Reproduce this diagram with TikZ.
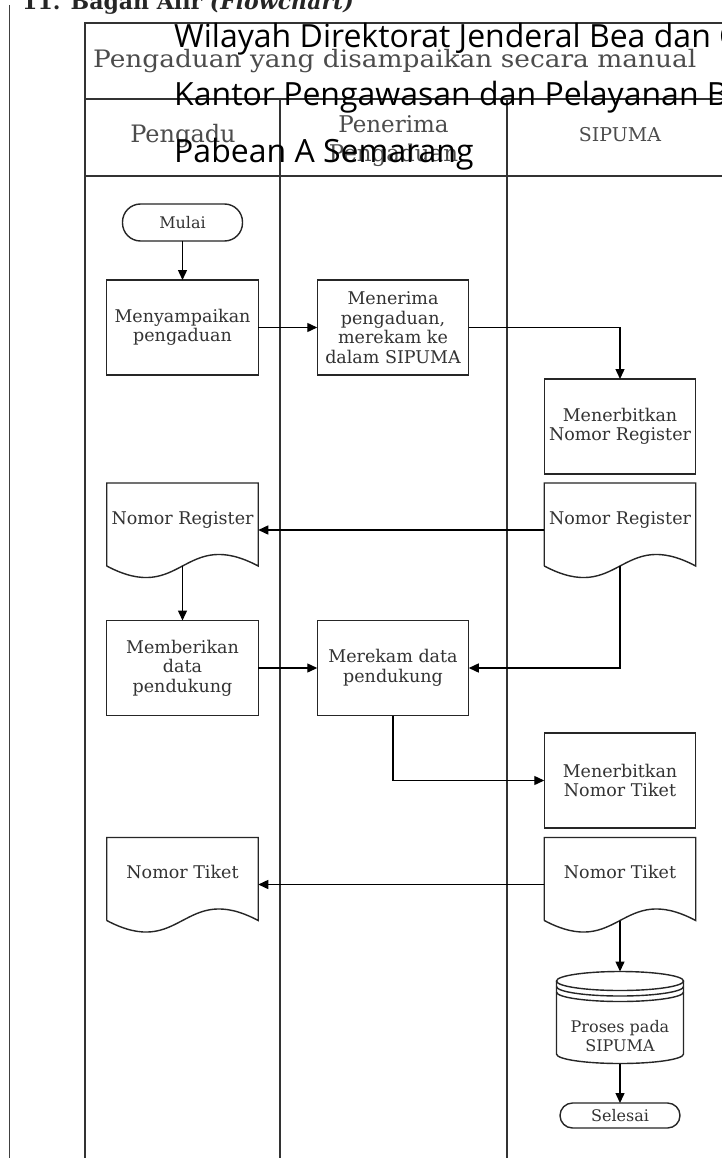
\documentclass[tikz,border=0pt]{standalone}
\usepackage{fontspec}
\setmainfont{DejaVu Serif}
\newfontfamily\ovlfont{Open Sans}
\newfontfamily\hdrfont[FakeStretch=1.1]{DejaVu Serif}
\usetikzlibrary{arrows.meta,calc}
\newcommand\docpath[1]{\draw[boxline] (#1.south west) -- (#1.north west) -- (#1.north east) -- (#1.south east) .. controls ($(#1.south)+(0,-40)$) and ($(#1.south)+(0,40)$) .. (#1.south west);}
\begin{document}
\begin{tikzpicture}[x=1pt,y=-1pt,
  frame/.style={draw=black!80, line width=2pt},
  boxline/.style={draw=black!85, line width=1.4pt},
  procbox/.style={boxline, minimum width=151.5pt, minimum height=95pt, inner sep=0pt, outer sep=0pt, align=center, font=\fontsize{17.5}{19.5}\selectfont, text=black!80},
  docbox/.style={draw=none, minimum width=151.5pt, minimum height=83pt, inner sep=0pt, outer sep=0pt, align=center, text height=13pt, text depth=14pt, font=\fontsize{17.5}{19.5}\selectfont, text=black!80},
  termbox/.style={boxline, minimum width=120pt, inner sep=0pt, outer sep=0pt, font=\fontsize{16}{19}\selectfont, text=black!80},
  arr/.style={draw=black, line width=1.4pt, -{Triangle[length=10pt,width=9pt]}},
  hdr/.style={inner sep=0pt, text=black!70},
  ovl/.style={anchor=base west, inner sep=0pt, font=\ovlfont\fontsize{32}{38}\selectfont, text=black}
]
\useasboundingbox (0,0) rectangle (722,1158);
\clip (0,0) rectangle (722,1158);
\fill[white] (0,0) rectangle (722,1158);

% page margin line and section heading
\draw[line width=1.8pt, black!75] (9.5,5) -- (9.5,1170);
\node[anchor=base west, inner sep=0pt, font=\fontsize{22}{26}\selectfont\bfseries, text=black!85] (sec) at (22,10) {11. Bagan Alir \textit{(Flowchart)}};

% table frame
\draw[frame] (85,1170) -- (85,23) -- (760,23);
\draw[frame] (85,99) -- (760,99);
\draw[frame] (85,176) -- (760,176);
\draw[frame] (280,99) -- (280,1170);
\draw[frame] (507,99) -- (507,1170);

% header texts
\node[hdr, anchor=base west, font=\hdrfont\fontsize{24}{28}\selectfont] (ttl) at (93,68) {Pengaduan yang disampaikan secara manual};
\node[hdr, anchor=base, font=\fontsize{24}{28}\selectfont] (lane1) at (183,143) {Pengadu};
\node[hdr, align=center, font=\fontsize{23}{29}\selectfont] (lane2) at (393.5,140.8) {Penerima\\Pengaduan};
\node[hdr, anchor=base, font=\fontsize{19}{22}\selectfont] (lane3) at (620,142) {SIPUMA};

% flow nodes
\node[termbox, minimum height=37pt, rounded corners=18pt] (mulai) at (182.5,222.5) {Mulai};
\node[procbox] (meny) at (182.5,327.5) {Menyampaikan\\pengaduan};
\node[procbox] (mener) at (393,327.5) {Menerima\\pengaduan,\\merekam ke\\dalam SIPUMA};
\node[procbox] (mnr) at (620,426.5) {Menerbitkan\\Nomor Register};
\node[docbox] (nrS) at (620,524.5) {Nomor Register};
\node[docbox] (nrP) at (182.5,524.5) {Nomor Register};
\node[procbox] (mem) at (182.5,668) {Memberikan\\data\\pendukung};
\node[procbox] (mer) at (393,668) {Merekam data\\pendukung};
\node[procbox] (mnt) at (620,780.5) {Menerbitkan\\Nomor Tiket};
\node[docbox] (ntS) at (620,879) {Nomor Tiket};
\node[docbox] (ntP) at (182.5,879) {Nomor Tiket};
\node[inner sep=0pt, outer sep=0pt, align=center, font=\fontsize{16}{19}\selectfont, text=black!80] (db) at (620,1036.5) {Proses pada\\SIPUMA};
\node[termbox, minimum height=25pt, rounded corners=12.5pt] (sel) at (620,1115.5) {Selesai};

\docpath{nrS}
\docpath{nrP}
\docpath{ntS}
\docpath{ntP}

% stored data (cylinder)
\coordinate (dbtop) at ($(db.center)+(0,-65)$);
\coordinate (dbbot) at ($(db.center)+(0,27)$);
\draw[boxline] ($(dbtop)+(0,9.5)$) ellipse [x radius=63.5, y radius=9.5];
\draw[boxline] ($(dbtop)+(-63.5,15)$) arc[start angle=180, end angle=0, x radius=63.5, y radius=9.5];
\draw[boxline] ($(dbtop)+(-63.5,20.5)$) arc[start angle=180, end angle=0, x radius=63.5, y radius=9.5];
\draw[boxline] ($(dbtop)+(-63.5,9.5)$) -- ($(dbbot)+(-63.5,-9.5)$) arc[start angle=180, end angle=0, x radius=63.5, y radius=9.5] -- ($(dbtop)+(63.5,9.5)$);

% connectors
\draw[arr] (mulai.south) -- (meny.north);
\draw[arr] (meny.east) -- (mener.west);
\draw[arr] (mener.east) -| (mnr.north);
\draw[arr] ($(nrS.west)+(0,5.5)$) -- ($(nrP.east)+(0,5.5)$);
\draw[arr] (nrS.south) |- (mer.east);
\draw[arr] (nrP.south) -- (mem.north);
\draw[arr] (mem.east) -- (mer.west);
\draw[arr] (mer.south) |- (mnt.west);
\draw[arr] ($(ntS.west)+(0,5.5)$) -- ($(ntP.east)+(0,5.5)$);
\draw[arr] (ntS.south) -- (dbtop);
\draw[arr] (dbbot) -- (sel.north);

% overlaid text layer
\node[ovl] (o1) at (174,48) {Wilayah Direktorat Jenderal Bea dan C};
\node[ovl] (o2) at (174,106) {Kantor Pengawasan dan Pelayanan B};
\node[ovl] (o3) at (174,163) {Pabean A Semarang};
\end{tikzpicture}
\end{document}
